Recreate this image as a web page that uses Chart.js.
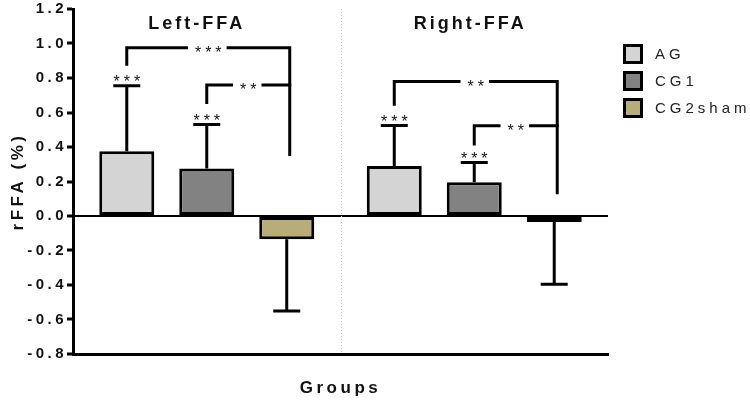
<!DOCTYPE html>
<html><head><meta charset="utf-8">
<script src="https://cdn.jsdelivr.net/npm/chart.js@4"></script>
<style>html,body{margin:0;padding:0;background:#fff}#wrap{width:750px;height:403px}</style>
</head><body><div id="wrap"><canvas id="c" width="750" height="403"></canvas></div>
<script>
const categories = ['Left-FFA', 'Right-FFA'];
const seriesNames = ['AG', 'CG1', 'CG2sham'];
const agMean = [0.375, 0.29];
const agSD = [0.38, 0.235];
const cg1Mean = [0.275, 0.195];
const cg1SD = [0.255, 0.115];
const cg2Mean = [-0.135, -0.035];
const cg2SD = [0.415, 0.36];
const agStars = ['***', '***'];
const cg1Stars = ['***', '***'];
const cg2Stars = ['', ''];
const yTickLabels = ['-0.8', '-0.6', '-0.4', '-0.2', '0.0', '0.2', '0.4', '0.6', '0.8', '1.0', '1.2'];
// significance brackets: category, from series, to series, level, leg ends (data units), label
const bracketCat = [0, 0, 1, 1];
const bracketFrom = [0, 1, 0, 1];
const bracketTo = [2, 2, 2, 2];
const bracketLevel = [0.976, 0.759, 0.779, 0.523];
const bracketLeftEnd = [0.871, 0.649, 0.639, 0.408];
const bracketRightEnd = [0.348, null, 0.126, null];
const bracketLabel = ['***', '**', '**', '**'];

const colors = ['#d4d4d4', '#828282', '#b8ad79'];
const FONT = "'Liberation Sans', Arial, Helvetica, sans-serif";

const means = [agMean, cg1Mean, cg2Mean];
const sds = [agSD, cg1SD, cg2SD];
const stars = [agStars, cg1Stars, cg2Stars];
const titleShift = [-10, -4];

const overlay = {
  id: 'overlay',
  beforeDraw(chart) { chart.ctx.letterSpacing = '3.5px'; },
  beforeDatasetsDraw(chart) {
    const ctx = chart.ctx, xs = chart.scales.x, ca = chart.chartArea;
    ctx.save();
    const xm = (xs.getPixelForValue(0) + xs.getPixelForValue(1)) / 2;
    ctx.strokeStyle = '#c8c8c8';
    ctx.lineWidth = 1;
    ctx.setLineDash([1, 2]);
    ctx.beginPath();
    ctx.moveTo(Math.round(xm) + 0.5, ca.top);
    ctx.lineTo(Math.round(xm) + 0.5, ca.bottom);
    ctx.stroke();
    ctx.restore();
  },
  afterDatasetsDraw(chart) {
    const ctx = chart.ctx, ys = chart.scales.y, xs = chart.scales.x;
    ctx.save();
    ctx.strokeStyle = '#000';
    ctx.fillStyle = '#111';
    ctx.lineWidth = 3;
    ctx.lineCap = 'butt';
    ctx.lineJoin = 'miter';
    // error bars + stars
    for (let d = 0; d < 3; d++) {
      const meta = chart.getDatasetMeta(d);
      meta.data.forEach((bar, i) => {
        const v = means[d][i], e = sds[d][i];
        const end = v >= 0 ? v + e : v - e;
        const y0 = ys.getPixelForValue(v), y1 = ys.getPixelForValue(end);
        ctx.beginPath();
        ctx.moveTo(bar.x, y0);
        ctx.lineTo(bar.x, y1);
        ctx.moveTo(bar.x - 13.5, y1);
        ctx.lineTo(bar.x + 13.5, y1);
        ctx.stroke();
        const s = stars[d][i];
        if (s) {
          ctx.font = '16px ' + FONT;
          ctx.letterSpacing = '4px';
          ctx.textAlign = 'center';
          ctx.textBaseline = 'middle';
          ctx.fillText(s, bar.x + 2, y1 - 3);
        }
      });
    }
    // brackets
    for (let k = 0; k < bracketCat.length; k++) {
      const c = bracketCat[k];
      const x1 = chart.getDatasetMeta(bracketFrom[k]).data[c].x;
      const x2 = chart.getDatasetMeta(bracketTo[k]).data[c].x + 3;
      const yl = ys.getPixelForValue(bracketLevel[k]);
      ctx.beginPath();
      ctx.moveTo(x1, ys.getPixelForValue(bracketLeftEnd[k]));
      ctx.lineTo(x1, yl);
      ctx.lineTo(x2 + (bracketRightEnd[k] === null ? 1.5 : 0), yl);
      if (bracketRightEnd[k] !== null) ctx.lineTo(x2, ys.getPixelForValue(bracketRightEnd[k]));
      ctx.stroke();
      ctx.font = '16px ' + FONT;
      ctx.letterSpacing = '4px';
      const w = ctx.measureText(bracketLabel[k]).width;
      const xm = (x1 + x2) / 2;
      ctx.fillStyle = '#fff';
      ctx.fillRect(xm - w / 2 - 5, yl - 4, w + 8, 8);
      ctx.fillStyle = '#111';
      ctx.textAlign = 'center';
      ctx.textBaseline = 'middle';
      ctx.fillText(bracketLabel[k], xm + 2, yl + 6);
    }
    // category titles
    ctx.font = 'bold 18px ' + FONT;
    ctx.letterSpacing = '3px';
    ctx.textAlign = 'center';
    ctx.textBaseline = 'middle';
    ctx.fillStyle = '#111';
    categories.forEach((c, i) => {
      ctx.fillText(c, xs.getPixelForValue(i) + titleShift[i], 24);
    });
    // legend
    ctx.font = '15px ' + FONT;
    ctx.letterSpacing = '4px';
    ctx.textAlign = 'left';
    seriesNames.forEach((n, i) => {
      const y = 44 + i * 27;
      ctx.fillStyle = colors[i];
      ctx.fillRect(623, y, 20, 20);
      ctx.strokeStyle = '#000';
      ctx.lineWidth = 3;
      ctx.strokeRect(624.5, y + 1.5, 17, 17);
      ctx.fillStyle = '#222';
      ctx.fillText(n, 655, y + 11);
    });
    ctx.restore();
  }
};

new Chart(document.getElementById('c'), {
  type: 'bar',
  data: {
    labels: categories,
    datasets: seriesNames.map((n, d) => ({
      label: n,
      data: means[d],
      backgroundColor: colors[d],
      borderColor: '#000',
      borderWidth: 3,
      borderSkipped: false,
      categoryPercentage: 0.897,
      barPercentage: 0.6875
    }))
  },
  options: {
    responsive: false,
    animation: false,
    events: [],
    layout: { padding: { top: 9, right: 142, bottom: 0, left: 0 } },
    plugins: { legend: { display: false }, tooltip: { enabled: false } },
    scales: {
      x: {
        offset: true,
        grid: { display: false },
        ticks: { display: false },
        border: { display: true, color: '#000', width: 3 },
        title: { display: true, text: 'Groups', color: '#111', font: { family: FONT, size: 17, weight: 'bold' }, padding: { top: 0, bottom: 4 } },
        afterFit(s) { s.height = 49; }
      },
      y: {
        min: -0.8, max: 1.2,
        afterBuildTicks(s) { s.ticks = yTickLabels.map(t => ({ value: parseFloat(t) })); },
        ticks: {
          callback: (v, i) => yTickLabels[i],
          color: '#111', padding: 0,
          font: { family: FONT, size: 15, weight: 'bold' }
        },
        grid: {
          drawOnChartArea: true,
          color: c => (c.tick && c.tick.value === 0) ? '#000' : 'rgba(0,0,0,0)',
          lineWidth: 2,
          tickLength: 6, tickWidth: 3, tickColor: '#000'
        },
        border: { display: true, color: '#000', width: 3 },
        title: { display: true, text: 'rFFA (%)', color: '#111', font: { family: FONT, size: 17, weight: 'bold' }, padding: { top: 8, bottom: 0 } },
        afterFit(s) { s.width = 73; }
      }
    }
  },
  plugins: [overlay]
});
</script></body></html>
